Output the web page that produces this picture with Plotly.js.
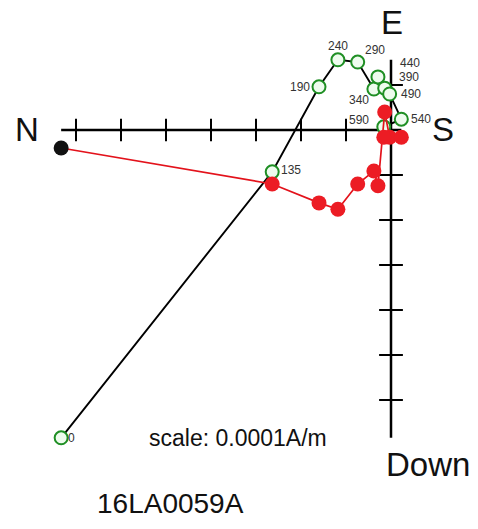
<!DOCTYPE html>
<html>
<head>
<meta charset="utf-8">
<script src="https://cdn.plot.ly/plotly-3.0.1.min.js"></script>
<style>html,body{margin:0;padding:0;background:#fff}#chart{width:478px;height:529px}</style>
</head>
<body>
<div id="chart"></div>
<script>
// Demagnetization steps (labels) and components in units of 1e-4 A/m
const steps = ['0','135','190','240','290','340','390','440','490','540','590'];
const north = [7.33, 2.64, 1.60, 1.18, 0.74, 0.38, 0.29, 0.14, 0.03, -0.23, 0.16];
const east  = [-6.84, -0.93, 0.96, 1.56, 1.51, 0.91, 1.18, 0.93, 0.80, 0.24, 0.07];
const down  = [0.40, 1.20, 1.62, 1.76, 1.20, 0.91, 1.24, -0.40, 0.16, 0.16, 0.16];

// label pixel offsets (dx, dy) relative to each horizontal-projection point (style only)
const labelDx = [5, 7, -31, -12, 5, -27, 19, 13, 9, 8, -37];
const labelDy = [0, -2, 0, -14, -12, 11, 0, -25, 0, 0, -7];

const maxN = Math.max(...north), minN = Math.min(...north);
const maxE = Math.max(...east), minE = Math.min(...east);

const tickN = [];
for (let v = 1; v <= Math.floor(maxN); v++) tickN.push(v);
const tickE = [];
for (let v = Math.ceil(minE); v <= Math.floor(maxE); v++) if (v !== 0) tickE.push(v);

const traces = [
  { x: tickN, y: tickN.map(() => 0), mode: 'markers', type: 'scatter',
    marker: { symbol: 'line-ns-open', size: 16, color: '#000', line: { color: '#000', width: 2 } }, hoverinfo: 'skip' },
  { x: tickE.map(() => 0), y: tickE, mode: 'markers', type: 'scatter',
    marker: { symbol: 'line-ew-open', size: 17, color: '#000', line: { color: '#000', width: 2 } }, hoverinfo: 'skip' },
  { x: north, y: east, mode: 'lines', type: 'scatter',
    line: { color: '#000', width: 1.9 }, hoverinfo: 'skip' },
  { x: north, y: down, yaxis: 'y2', mode: 'lines+markers', type: 'scatter',
    line: { color: '#e3121b', width: 1.7 },
    marker: { size: 15, color: north.map((_, i) => i === 0 ? '#111' : '#ec1c24') }, hoverinfo: 'skip' },
  { x: north, y: east, mode: 'markers', type: 'scatter',
    marker: { size: 13, color: '#eefcee', line: { color: '#1f8f24', width: 2 } }, hoverinfo: 'skip' }
];

const annotations = steps.map((s, i) => ({
  x: north[i], y: east[i], xref: 'x', yref: 'y', text: s, showarrow: false,
  xanchor: 'left', yanchor: 'middle', xshift: labelDx[i], yshift: -labelDy[i],
  font: { family: 'Liberation Sans, Arial, sans-serif', size: 12, color: '#333' }
}));
const big = { family: 'Liberation Sans, Arial, sans-serif', size: 33, color: '#111' };
annotations.push(
  { xref: 'paper', yref: 'paper', x: 27/478, y: 1 - 129/529, text: 'N', showarrow: false, font: big, xanchor: 'center', yanchor: 'middle' },
  { xref: 'paper', yref: 'paper', x: 392/478, y: 1 - 23/529, text: 'E', showarrow: false, font: big, xanchor: 'center', yanchor: 'middle' },
  { xref: 'paper', yref: 'paper', x: 443/478, y: 1 - 129/529, text: 'S', showarrow: false, font: big, xanchor: 'center', yanchor: 'middle' },
  { xref: 'paper', yref: 'paper', x: 428/478, y: 1 - 464/529, text: 'Down', showarrow: false, font: big, xanchor: 'center', yanchor: 'middle' },
  { xref: 'paper', yref: 'paper', x: 238/478, y: 1 - 438/529, text: 'scale: 0.0001A/m', showarrow: false,
    font: { family: 'Liberation Sans, Arial, sans-serif', size: 23, color: '#111' }, xanchor: 'center', yanchor: 'middle' },
  { xref: 'paper', yref: 'paper', x: 170/478, y: 1 - 503/529, text: '16LA0059A', showarrow: false,
    font: { family: 'Liberation Sans, Arial, sans-serif', size: 28, color: '#111' }, xanchor: 'center', yanchor: 'middle' }
);

const px = 45; // pixels per unit
const layout = {
  width: 478, height: 529, margin: { l: 0, r: 0, t: 0, b: 0 },
  paper_bgcolor: '#fff', plot_bgcolor: '#fff', showlegend: false, hovermode: false,
  xaxis: { range: [391/px, (391-478)/px], visible: false, fixedrange: true },
  yaxis: { range: [(130-529)/px, 130/px], visible: false, fixedrange: true },
  yaxis2: { range: [(529-130)/px, -130/px], visible: false, overlaying: 'y', fixedrange: true },
  shapes: [
    { type: 'line', layer: 'below', xref: 'x', yref: 'y', x0: maxN, x1: minN, y0: 0, y1: 0, line: { color: '#000', width: 2.5 } },
    { type: 'line', layer: 'below', xref: 'x', yref: 'y', x0: 0, x1: 0, y0: maxE, y1: minE, line: { color: '#000', width: 2.5 } }
  ],
  annotations: annotations
};

Plotly.newPlot('chart', traces, layout, { displayModeBar: false, staticPlot: true });
</script>
</body>
</html>
